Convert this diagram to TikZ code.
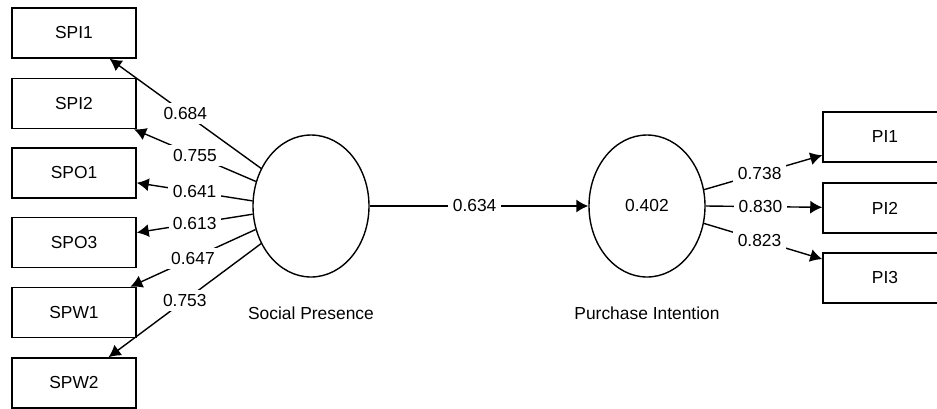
\documentclass[tikz,border=0pt]{standalone}
\usepackage{fontspec}
\setmainfont{Liberation Sans}
\usetikzlibrary{shapes.geometric,arrows.meta,positioning}

\tikzset{
  item/.style={draw,line width=0.75pt,minimum width=62pt,minimum height=25pt,inner sep=0pt},
  latent/.style={draw,ellipse,line width=0.7pt,minimum width=58pt,minimum height=71pt,inner sep=0pt},
  path/.style={line width=0.7pt,-{Latex[length=6pt,width=6.5pt]}},
  coef/.style={fill=white,inner sep=2.2pt}
}

\begin{document}
\begin{tikzpicture}[x=0.5pt,y=-0.5pt,font=\fontsize{8.7}{10}\selectfont]
        \useasboundingbox (0,0) rectangle (937,408) ;
        % indicators of social presence
        \node[item] (spi1) at (74,33) {SPI1} ;
        \node[item] (spi2) at (74,103.5) {SPI2} ;
        \node[item] (spo1) at (74,173) {SPO1} ;
        \node[item] (spo3) at (74,242.5) {SPO3} ;
        \node[item] (spw1) at (74,312.5) {SPW1} ;
        \node[item] (spw2) at (74,383) {SPW2} ;
        % latent variables
        \node[latent] (sp) at (311,206) {} ;
        \node[below=11pt of sp] (splabel) {Social Presence} ;
        \node[latent] (pi) at (647,206) {0.402} ;
        \node[below=11pt of pi] (pilabel) {Purchase Intention} ;
        % indicators of purchase intention
        \node[item] (pi1) at (885,137) {PI1} ;
        \node[item] (pi2) at (885,208) {PI2} ;
        \node[item] (pi3) at (885,278) {PI3} ;
        % loadings
        \draw[path] (sp.143) -- node[coef]{0.684} (spi1) ;
        \draw[path] (sp.156) -- node[coef]{0.755} (spi2) ;
        \draw[path] (sp.175) -- node[coef]{0.641} (spo1) ;
        \draw[path] (sp.188) -- node[coef]{0.613} (spo3) ;
        \draw[path] (sp.203) -- node[coef]{0.647} (spw1) ;
        \draw[path] (sp.217) -- node[coef]{0.753} (spw2) ;
        \draw[path] (sp.east) -- node[coef,pos=0.48]{0.634} (pi.west) ;
        \draw[path] (pi.16) -- node[coef,pos=0.47]{0.738} (pi1) ;
        \draw[path] (pi.0) -- node[coef,pos=0.47]{0.830} (pi2) ;
        \draw[path] (pi.-17) -- node[coef,pos=0.47]{0.823} (pi3) ;
\end{tikzpicture}
\end{document}
